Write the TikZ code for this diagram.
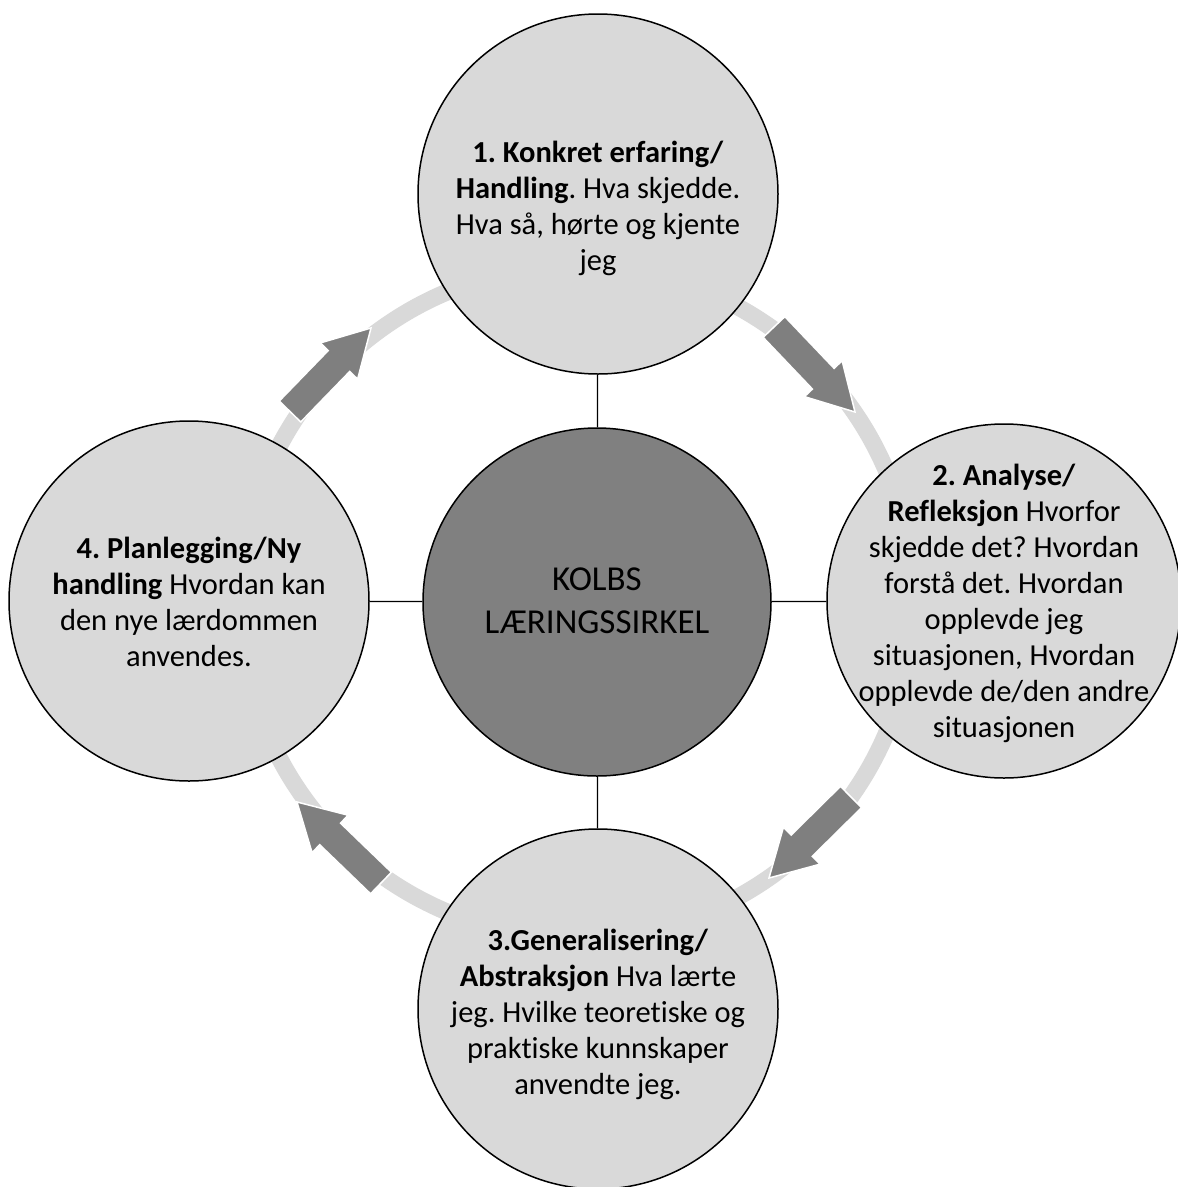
\documentclass[tikz,border=0pt]{standalone}
\usepackage{fontspec}
\setmainfont{Carlito}[Ligatures=NoCommon]
\frenchspacing
\usetikzlibrary{calc}
\definecolor{lightg}{HTML}{D9D9D9}
\definecolor{darkg}{HTML}{808080}
\definecolor{arrowg}{HTML}{7F7F7F}
\newcommand{\blkarrow}[2]{%
  \coordinate (ab) at ($(#2)!46pt!(#1)$);
  \filldraw[blockarrow]
    ($(#1)!15pt!90:(#2)$) -- ($(ab)!15pt!90:(#2)$) -- ($(ab)!26pt!90:(#2)$) -- (#2)
    -- ($(ab)!26pt!-90:(#2)$) -- ($(ab)!15pt!-90:(#2)$) -- ($(#1)!15pt!-90:(#2)$) -- cycle;}
\begin{document}
\begin{tikzpicture}[x=1pt,y=-1pt,
  outer/.style={circle, draw=black, line width=1.5pt, fill=lightg, minimum size=360pt, inner sep=0pt},
  hub/.style={circle, draw=black, line width=1.5pt, fill=darkg, minimum size=348pt, inner sep=0pt},
  txt/.style={align=center, font=\fontsize{30.5}{36}\selectfont\frenchspacing, inner sep=0pt},
  hubtxt/.style={align=center, font=\fontsize{35}{43}\selectfont, inner sep=0pt},
  ring/.style={draw=lightg, line width=17pt},
  blockarrow/.style={fill=arrowg, draw=white, line width=1.5pt, line join=miter},
  link/.style={draw=black, line width=1.2pt}]
\useasboundingbox (0,0) rectangle (1178,1187);
\clip (0,0) rectangle (1178,1187);
\fill[white] (0,0) rectangle (1178,1187);

% ring
\coordinate (rc) at (577,602);
\draw[ring] (rc) circle[radius=336];

% arrows
\coordinate (a1t) at (290,411.5); \coordinate (a1h) at (371,328);
\coordinate (a2t) at (774,327);   \coordinate (a2h) at (855,412);
\coordinate (a3t) at (851,797);   \coordinate (a3h) at (769,878);
\coordinate (a4t) at (381,883);   \coordinate (a4h) at (297,802);
\blkarrow{a1t}{a1h}
\blkarrow{a2t}{a2h}
\blkarrow{a3t}{a3h}
\blkarrow{a4t}{a4h}

% circles
\node[outer] (c1) at (598,194) {};
\node[outer, minimum size=354pt] (c2) at (1004,601) {};
\node[outer] (c3) at (598,1009) {};
\node[outer] (c4) at (189,601) {};
\node[hub] (m) at (597,602) {};

% connectors
\draw[link] (c1) -- (m);
\draw[link] (m) -- (c2);
\draw[link] (m) -- (c3);
\draw[link] (c4) -- (m);

% texts
\node[txt] (t1) at (598,208) {\textbf{1. Konkret erfaring/}\\\textbf{Handling}. Hva skjedde.\\Hva så, hørte og kjente\\jeg};
\node[txt] (t2) at (1004,603) {\textbf{2. Analyse/}\\\textbf{Refleksjon} Hvorfor\\skjedde det? Hvordan\\forstå det. Hvordan\\opplevde jeg\\situasjonen, Hvordan\\opplevde de/den andre\\situasjonen};
\node[txt] (t3) at (598,1014) {\textbf{3.Generalisering/}\\\textbf{Abstraksjon} Hva lærte\\jeg. Hvilke teoretiske og\\praktiske kunnskaper\\anvendte jeg.};
\node[txt] (t4) at (189,602) {\textbf{4. Planlegging/Ny}\\\textbf{handling} Hvordan kan\\den nye lærdommen\\anvendes.};
\node[hubtxt] (tm) at (597,601) {KOLBS\\LÆRINGSSIRKEL};
\end{tikzpicture}
\end{document}
